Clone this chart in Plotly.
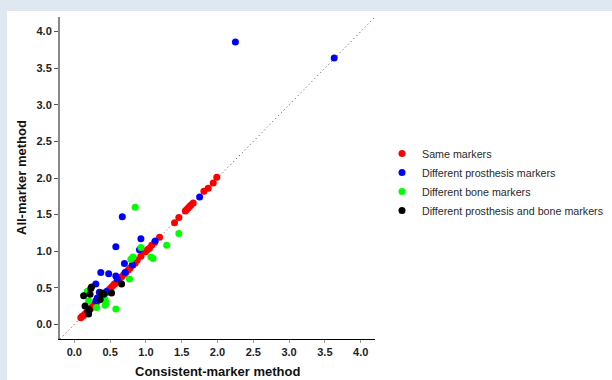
import plotly.graph_objects as go

# Same markers (red)
same_x = [0.09,0.11,0.13,0.15,0.17,0.19,0.21,0.23,0.25,0.27,0.29,0.31,0.34,0.36,0.39,0.41,0.44,0.47,0.49,0.52,0.55,0.57,0.60,0.63,0.66,0.69,0.72,0.75,0.78,0.82,0.85,0.88,0.93,0.99,1.02,1.05,1.08,1.12,1.19,1.40,1.46,1.55,1.57,1.59,1.61,1.63,1.66,1.81,1.87,1.94,1.99]
same_y = [0.09,0.11,0.12,0.14,0.16,0.18,0.20,0.22,0.24,0.26,0.28,0.30,0.33,0.35,0.38,0.40,0.43,0.46,0.48,0.51,0.54,0.56,0.59,0.62,0.65,0.68,0.71,0.74,0.77,0.81,0.84,0.88,0.93,0.99,1.02,1.04,1.08,1.12,1.19,1.39,1.46,1.55,1.57,1.59,1.61,1.63,1.66,1.82,1.86,1.93,2.01]

# Different prosthesis markers (blue)
pros_x = [2.25,3.63,1.75,1.13,0.93,0.67,0.58,0.91,0.70,0.81,0.71,0.37,0.48,0.58,0.60,0.30,0.35,0.45,0.30,0.41,0.32]
pros_y = [3.86,3.64,1.74,1.14,1.17,1.47,1.06,1.02,0.83,0.81,0.71,0.71,0.69,0.66,0.62,0.55,0.44,0.45,0.32,0.36,0.36]

# Different bone markers (green)
bone_x = [0.85,1.46,1.29,0.93,1.07,1.10,0.82,0.79,0.77,0.58,0.44,0.43,0.20,0.31,0.18,0.43]
bone_y = [1.60,1.24,1.08,1.05,0.92,0.90,0.92,0.89,0.62,0.21,0.30,0.26,0.32,0.23,0.45,0.34]

# Different prosthesis and bone markers (black)
both_x = [0.66,0.52,0.38,0.41,0.24,0.23,0.13,0.22,0.36,0.21,0.20,0.19,0.15]
both_y = [0.55,0.43,0.43,0.41,0.51,0.49,0.39,0.41,0.34,0.20,0.14,0.18,0.25]

x_ticks = [0.0, 0.5, 1.0, 1.5, 2.0, 2.5, 3.0, 3.5, 4.0]
y_ticks = [0.0, 0.5, 1.0, 1.5, 2.0, 2.5, 3.0, 3.5, 4.0]
rng = [-0.2, 4.2]

FONT = "Liberation Sans, Arial, sans-serif"

fig = go.Figure()
fig.add_trace(go.Scatter(x=rng, y=rng, mode="lines",
                         line=dict(color="#444444", width=1, dash="1px,3px"),
                         showlegend=False, hoverinfo="skip"))

series = [
    ("Same markers", same_x, same_y, "#ff0000"),
    ("Different prosthesis markers", pros_x, pros_y, "#0000ff"),
    ("Different bone markers", bone_x, bone_y, "#00ff00"),
    ("Different prosthesis and bone markers", both_x, both_y, "#000000"),
]
for name, xs, ys, col in series:
    fig.add_trace(go.Scatter(x=xs, y=ys, mode="markers", name=name,
                             marker=dict(color=col, size=7, line=dict(width=0))))

L, R, T, B = 60, 237, 17, 41
pw = 612 - L - R
ph = 380 - T - B

fig.update_layout(
    width=612, height=380,
    margin=dict(l=L, r=R, t=T, b=B, autoexpand=False),
    paper_bgcolor="#dfe8f1",
    plot_bgcolor="white",
    font=dict(family=FONT, color="#222222"),
    shapes=[dict(type="rect", xref="paper", yref="paper",
                 x0=(7 - L) / pw, x1=(612 - L) / pw + 0.05,
                 y0=-(380 - T - ph) / ph - 0.05, y1=(ph + T - 11) / ph,
                 fillcolor="white", line=dict(width=0), layer="below")],
    xaxis=dict(range=rng, tickvals=x_ticks, ticktext=[f"{v:.1f}" for v in x_ticks],
               showgrid=False, zeroline=False, showline=True, linecolor="#000000", linewidth=1,
               ticks="outside", ticklen=3, tickcolor="#999999",
               tickfont=dict(size=11, family=FONT, color="#222222", weight="bold")),
    yaxis=dict(range=rng, tickvals=y_ticks, ticktext=[f"{v:.1f}" for v in y_ticks],
               showgrid=False, zeroline=False, showline=True, linecolor="#888888", linewidth=2,
               ticks="outside", ticklen=4, tickcolor="#555555",
               tickfont=dict(size=11, family=FONT, color="#222222", weight="bold")),
    legend=dict(x=(382 - L) / pw, xanchor="left", y=(339 - 182) / ph, yanchor="middle",
                font=dict(size=10.7, family=FONT, color="#2a2a2a"),
                bgcolor="rgba(0,0,0,0)", itemwidth=30),
    annotations=[
        dict(text="<b>Consistent-marker method</b>", xref="paper", yref="paper",
             x=(217 - L) / pw, y=(339 - 371) / ph, xanchor="center", yanchor="middle",
             showarrow=False, font=dict(size=13, family=FONT, color="#111111")),
        dict(text="<b>All-marker method</b>", xref="paper", yref="paper",
             x=(21 - L) / pw, y=0.5, xanchor="center", yanchor="middle", textangle=-90,
             showarrow=False, font=dict(size=13, family=FONT, color="#111111")),
    ],
)

fig.write_html("out.html")
